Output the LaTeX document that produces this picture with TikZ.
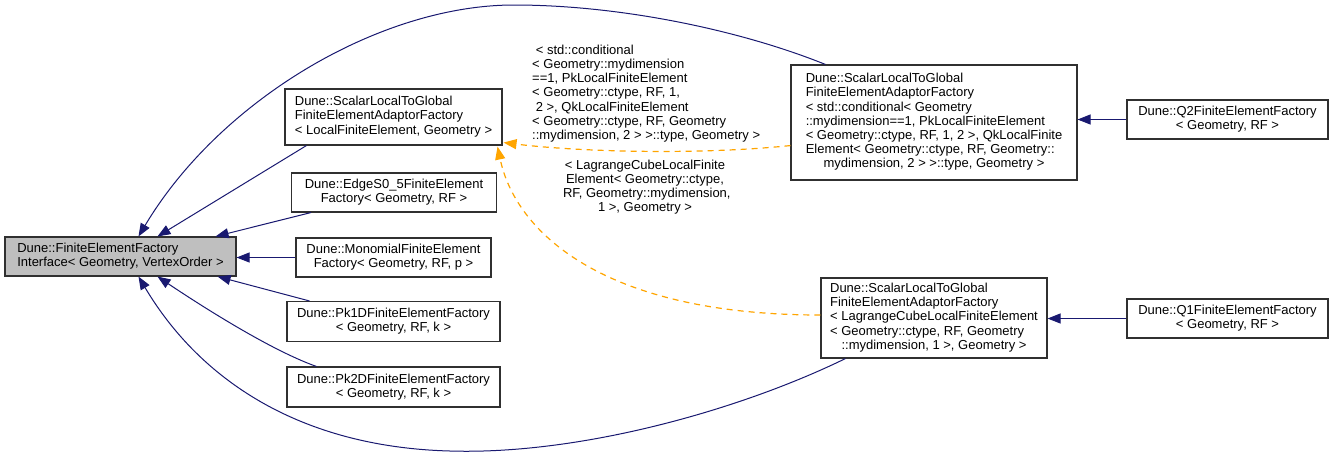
\documentclass[tikz,border=0pt]{standalone}
\usepackage{fontspec}
\setmainfont{Liberation Sans}
\usetikzlibrary{arrows.meta,calc}
\definecolor{navyedge}{HTML}{191970}
\definecolor{deporange}{HTML}{FFA500}
\definecolor{boxborder}{HTML}{303030}
\definecolor{basefill}{HTML}{BFBFBF}
\newcommand{\dxfont}{\fontsize{13}{14.2}\selectfont}
\begin{document}
\begin{tikzpicture}[x=1pt,y=-1pt,
  cls/.style={draw=boxborder, line width=1.1pt, fill=white, inner sep=0pt, font=\dxfont, align=center},
  basecls/.style={cls, fill=basefill},
  inh/.style={draw=navyedge, line width=1pt, -{Triangle[length=13pt,width=10pt]}, fill=none},
  dep/.style={draw=deporange, line width=1.2pt, dash pattern=on 6pt off 5pt, -{Triangle[length=13pt,width=10pt,fill=deporange]}},
  lbl/.style={font=\dxfont, inner sep=0pt}
]
\useasboundingbox (0,0) rectangle (1333,459);

% nodes
\node[basecls, minimum width=231pt, minimum height=39pt] (base) at (120.5,256.5)
  {\begin{tabular}{@{}l@{}}Dune::FiniteElementFactory\\Interface< Geometry, VertexOrder >\end{tabular}};
\node[cls, minimum width=217pt, minimum height=56pt] (sltg) at (393.5,117)
  {\begin{tabular}{@{}l@{}}Dune::ScalarLocalToGlobal\\FiniteElementAdaptorFactory\\< LocalFiniteElement, Geometry >\end{tabular}};
\node[cls, minimum width=205pt, minimum height=39pt] (edge) at (394,192.5)
  {Dune::EdgeS0\_5FiniteElement\\Factory< Geometry, RF >};
\node[cls, minimum width=195pt, minimum height=39pt] (mono) at (393.5,257.5)
  {Dune::MonomialFiniteElement\\Factory< Geometry, RF, p >};
\node[cls, minimum width=213pt, minimum height=40pt] (pkone) at (393.5,321.5)
  {Dune::Pk1DFiniteElementFactory\\< Geometry, RF, k >};
\node[cls, minimum width=213pt, minimum height=40pt] (pktwo) at (393.5,387)
  {Dune::Pk2DFiniteElementFactory\\< Geometry, RF, k >};
\node[cls, minimum width=286pt, minimum height=115pt] (qtwosltg) at (934,122.5)
  {\begin{tabular}{@{}l@{}}Dune::ScalarLocalToGlobal\\FiniteElementAdaptorFactory\\< std::conditional< Geometry\\::mydimension==1, PkLocalFiniteElement\\< Geometry::ctype, RF, 1, 2 >, QkLocalFinite\\Element< Geometry::ctype, RF, Geometry::\\\multicolumn{1}{@{}c@{}}{mydimension, 2 > >::type, Geometry >}\end{tabular}};
\node[cls, minimum width=226pt, minimum height=80pt] (qonesltg) at (934,318)
  {\begin{tabular}{@{}l@{}}Dune::ScalarLocalToGlobal\\FiniteElementAdaptorFactory\\< LagrangeCubeLocalFiniteElement\\< Geometry::ctype, RF, Geometry\\\multicolumn{1}{@{}c@{}}{::mydimension, 1 >, Geometry >}\end{tabular}};
\node[cls, minimum width=201pt, minimum height=39pt] (qtwo) at (1227.5,119.5)
  {Dune::Q2FiniteElementFactory\\< Geometry, RF >};
\node[cls, minimum width=201pt, minimum height=39pt] (qone) at (1227.5,318.5)
  {Dune::Q1FiniteElementFactory\\< Geometry, RF >};

% edge labels
\node[lbl, anchor=west, align=left] (lblcond) at (532,93.5)
  {\hspace*{3.6pt}< std::conditional\\< Geometry::mydimension\\==1, PkLocalFiniteElement\\< Geometry::ctype, RF, 1,\\\hspace*{3.6pt}2 >, QkLocalFiniteElement\\< Geometry::ctype, RF, Geometry\\::mydimension, 2 > >::type, Geometry >};
\node[lbl, align=center] (lbllag) at (645,187)
  {< LagrangeCubeLocalFinite\\Element< Geometry::ctype,\\\hspace*{3.6pt}RF, Geometry::mydimension,\\1 >, Geometry >};

% inheritance edges
\draw[inh] ($(qtwosltg.north west)+(35,0)$) .. controls (740,30) and (620,5) .. (514,5)
  .. controls (380,5) and (220,100) .. ($(base.north)+(18,0)$);
\draw[inh] ($(sltg.south west)+(22,0)$) -- ($(base.north)+(37,0)$);
\draw[inh] ($(edge.south west)+(20,0)$) -- ($(base.north east)+(-21,0)$);
\draw[inh] (mono.west) -- (mono.west -| base.east);
\draw[inh] ($(pkone.north west)+(23,0)$) -- ($(base.south east)+(-19,0)$);
\draw[inh] ($(pktwo.north west)+(30,0)$) .. controls (270,350) and (200,305) .. ($(base.south)+(37,0)$);
\draw[inh] ($(qonesltg.south west)+(25,0)$) .. controls (740,410) and (580,455) .. (450,451)
  .. controls (300,447) and (200,380) .. ($(base.south)+(18,0)$);
\draw[inh] (qtwo.west) -- (qtwo.west -| qtwosltg.east);
\draw[inh] (qone.west) -- (qone.west -| qonesltg.east);

% dependency edges
\draw[dep] ($(qtwosltg.south west)+(0,-35)$) .. controls (700,155) and (580,152) .. ($(sltg.south east)+(1,-3)$);
\draw[dep] ($(qonesltg.west)+(0,-3)$) .. controls (600,315) and (515,230) .. ($(sltg.south east)+(-5,1)$);
\end{tikzpicture}
\end{document}
